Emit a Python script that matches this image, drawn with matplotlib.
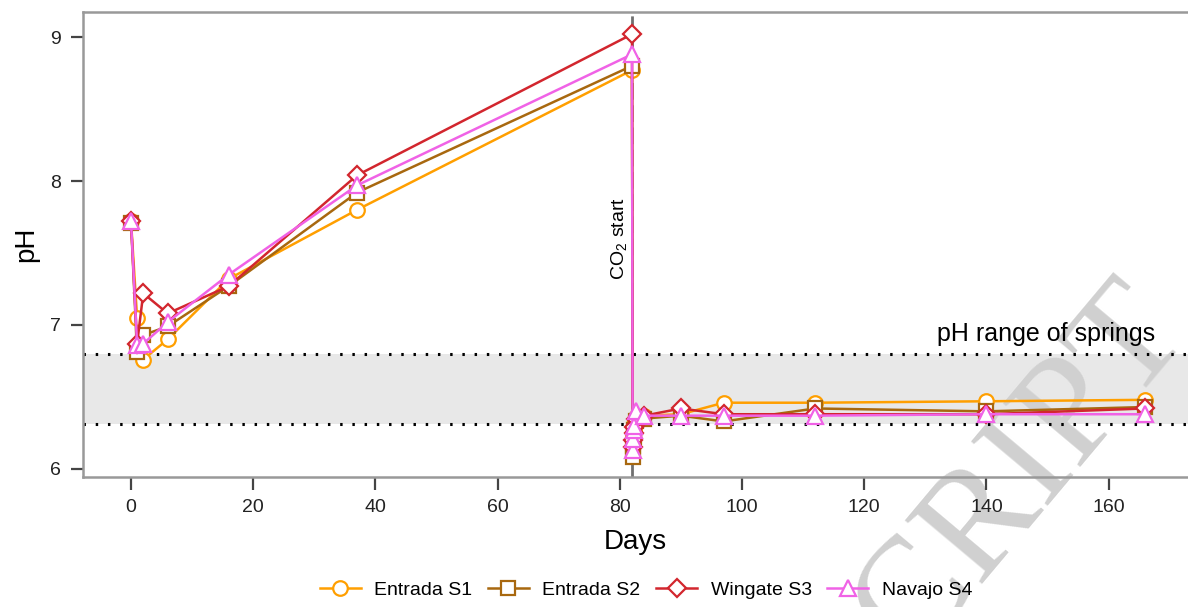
import numpy as np
import matplotlib.pyplot as plt
from matplotlib.lines import Line2D

plt.rcParams["font.family"] = ["Liberation Sans", "DejaVu Sans"]
plt.rcParams["mathtext.fontset"] = "custom"
plt.rcParams["mathtext.rm"] = "Liberation Sans"

# sampling days (CO2 injection starts at day 82)
days = [0, 1, 2, 6, 16, 37, 82, 82.1, 82.2, 82.3, 82.4, 82.7, 84, 90, 97, 112, 140, 166]

entrada_s1 = [7.72, 7.05, 6.76, 6.90, 7.32, 7.80, 8.77, 6.18, 6.22, 6.27, 6.31, 6.36, 6.37, 6.38, 6.46, 6.46, 6.47, 6.48]
entrada_s2 = [7.71, 6.81, 6.93, 6.99, 7.27, 7.92, 8.80, 6.08, 6.16, 6.22, 6.27, 6.33, 6.35, 6.37, 6.33, 6.42, 6.40, 6.43]
wingate_s3 = [7.72, 6.87, 7.22, 7.08, 7.27, 8.04, 9.02, 6.15, 6.20, 6.25, 6.29, 6.35, 6.37, 6.42, 6.38, 6.38, 6.38, 6.42]
navajo_s4 = [7.72, 6.86, 6.87, 7.02, 7.35, 7.97, 8.88, 6.13, 6.21, 6.27, 6.30, 6.40, 6.37, 6.37, 6.37, 6.37, 6.38, 6.38]

series = [
    ("Entrada S1", entrada_s1, "#FF9F00", "o"),
    ("Entrada S2", entrada_s2, "#A8680F", "s"),
    ("Wingate S3", wingate_s3, "#D2262E", "D"),
    ("Navajo S4", navajo_s4, "#F062E6", "^"),
]
marker_size = {"o": 10.5, "s": 9.5, "D": 9, "^": 11}

spring_lo, spring_hi = 6.31, 6.80
co2_day = 82

W, H = 1188, 607
fig = plt.figure(figsize=(W / 100, H / 100), dpi=100)
ax = fig.add_axes([83 / W, (H - 477) / H, 1.0 - 83 / W, 465 / H])
ax.set_facecolor("none")

# springs pH band
ax.axhspan(spring_lo, spring_hi, color="#E8E8E8", lw=0, zorder=0)
for yv in (spring_lo, spring_hi):
    ax.axhline(yv, color="black", lw=2.2, ls=(0, (0.8, 3.2)), zorder=1)

ax.axvline(co2_day, color="#707070", lw=2, ls=(0, (6, 2)), zorder=1)

for name, vals, col, mk in series:
    ax.plot(days, vals, color=col, lw=1.8, marker=mk, ms=marker_size[mk],
            mfc="white", mec=col, mew=1.6, label=name, zorder=3)

ax.set_xlim(-7.86, 173.0)
ax.set_ylim(5.944, 9.174)
ax.set_xticks(np.arange(0, 161, 20))
ax.set_yticks([6, 7, 8, 9])

for s in ("top", "bottom", "left"):
    ax.spines[s].set_color("#999999")
    ax.spines[s].set_linewidth(1.8)
ax.spines["right"].set_visible(False)
ax.tick_params(axis="both", direction="out", length=9, width=1.6,
               color="#444444", labelsize=14, labelcolor="#222222", pad=7)

ax.set_xlabel("Days", fontsize=20, labelpad=9)
ax.set_ylabel("pH", fontsize=20, labelpad=8)

ax.text(80.0, 7.6, r"CO$_2$ start", rotation=90, ha="center", va="center",
        fontsize=14)
ax.text(149.7, 6.94, "pH range of springs", ha="center", va="center", fontsize=18)

# diagonal watermark, above the band but under the data
ax.text(1192 / W, 1 - 334 / H, "ACCEPTED MANUSCRIPT", transform=fig.transFigure,
        rotation=50, rotation_mode="anchor", ha="right", va="baseline",
        fontsize=110, family="Liberation Serif", color="#D0D0D0",
        zorder=0.5, clip_on=False)

handles = [Line2D([], [], color=c, lw=1.8, marker=m, ms=marker_size[m],
                  mfc="white", mec=c, mew=1.6) for _, _, c, m in series]
fig.legend(handles, [s[0] for s in series], loc="center",
           bbox_to_anchor=(646 / W, 1 - 590 / H), ncol=4, frameon=False,
           fontsize=14, handlelength=2.1, handletextpad=0.7, columnspacing=0.8)

fig.savefig("out.png", dpi=100, facecolor="white")
